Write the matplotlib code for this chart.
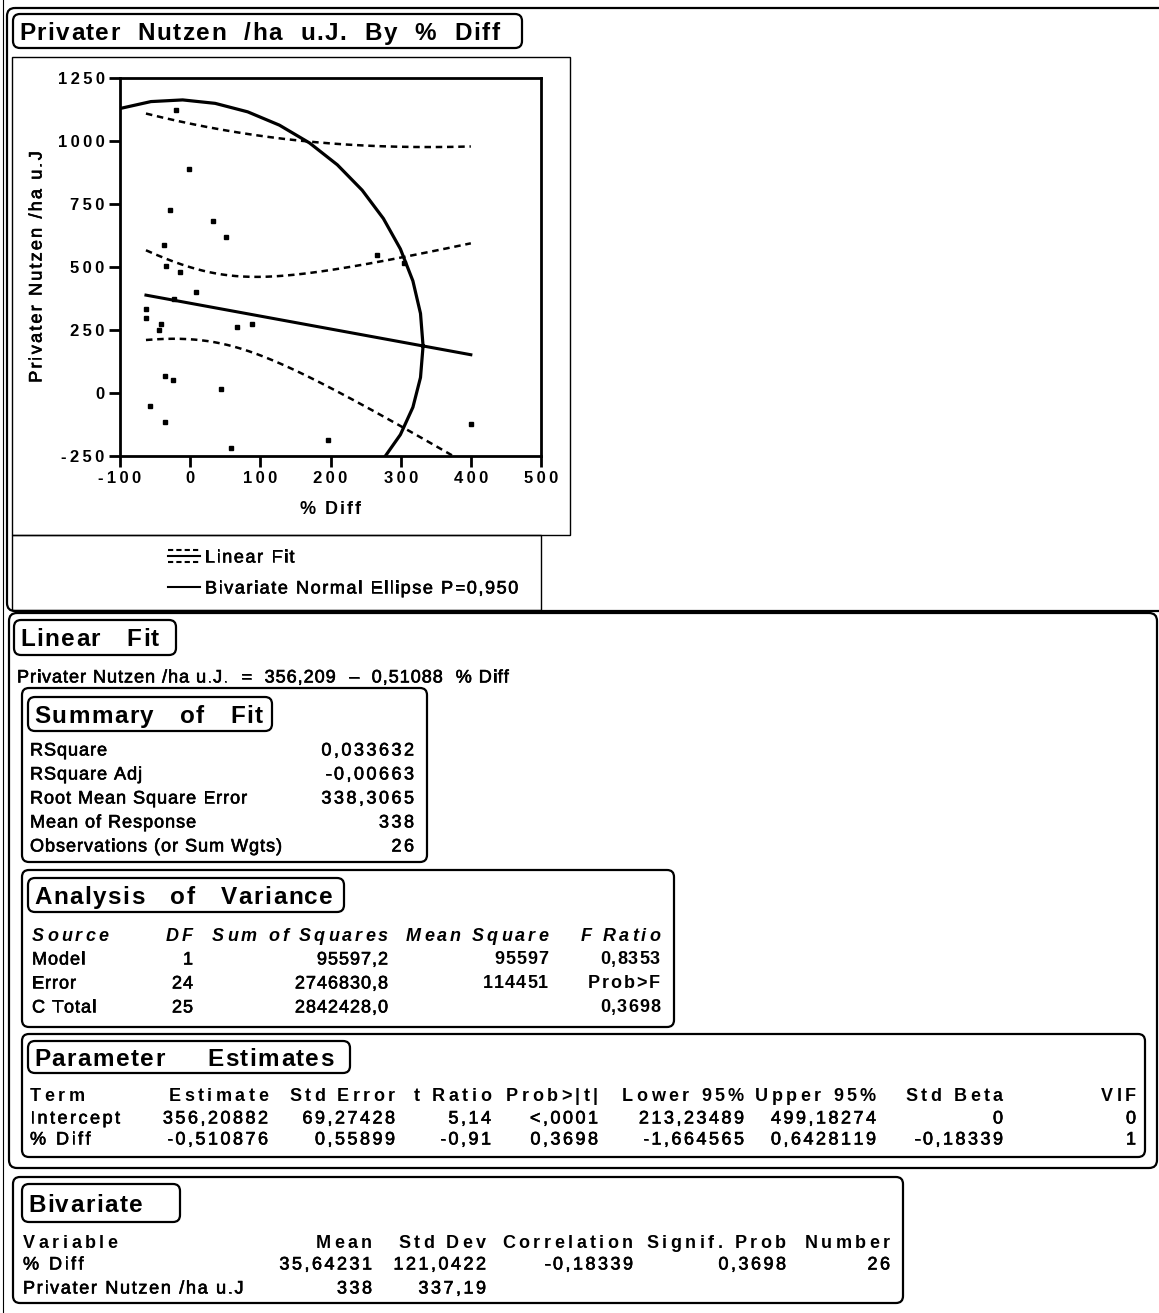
import numpy as np
import matplotlib
matplotlib.use("Agg")
import matplotlib.pyplot as plt
import matplotlib.patheffects as pe
from matplotlib.patches import FancyBboxPatch, Rectangle
from matplotlib import font_manager
from matplotlib.font_manager import FontProperties, findfont, get_font

# ---------------- data ----------------
pct_diff = [-20, -2, -29, 33, 51, -37, -35, -15, 8, -23, -63, -63, -42,
            -45, 67, 88, 266, 305, -36, -24, 44, -57, -36, 400, 196, 58]
nutzen = [1125, 889, 728, 683, 620, 586, 504, 481, 402, 375, 335, 297, 275,
          251, 260, 275, 548, 515, 68, 52, 15, -52, -115, -122, -186, -218]

fit_intercept = 356.209
fit_slope = -0.51088
rmse = 338.3065
n_obs = 26
mean_x, sd_x = 35.64231, 121.0422
mean_y, sd_y = 338.0, 337.19
corr = -0.18339
t_975_24 = 2.0639
ellipse_p = 0.950

x_ticks = [-100, 0, 100, 200, 300, 400, 500]
y_ticks = [-250, 0, 250, 500, 750, 1000, 1250]

summary_labels = ["RSquare", "RSquare Adj", "Root Mean Square Error",
                  "Mean of Response", "Observations (or Sum Wgts)"]
summary_values = ["0,033632", "-0,00663", "338,3065", "338", "26"]

anova_cols = ["Source", "DF", "Sum of Squares", "Mean Square", "F Ratio"]
anova_rows = [["Model", "1", "95597,2", "95597", "0,8353"],
              ["Error", "24", "2746830,8", "114451", "Prob>F"],
              ["C Total", "25", "2842428,0", "", "0,3698"]]

pe_cols = ["Term", "Estimate", "Std Error", "t Ratio", "Prob>|t|",
           "Lower 95%", "Upper 95%", "Std Beta", "VIF"]
pe_rows = [["Intercept", "356,20882", "69,27428", "5,14", "<,0001",
            "213,23489", "499,18274", "0", "0"],
           ["% Diff", "-0,510876", "0,55899", "-0,91", "0,3698",
            "-1,664565", "0,6428119", "-0,18339", "1"]]

biv_cols = ["Variable", "Mean", "Std Dev", "Correlation", "Signif. Prob", "Number"]
biv_rows = [["% Diff", "35,64231", "121,0422", "-0,18339", "0,3698", "26"],
            ["Privater Nutzen /ha u.J", "338", "337,19", "", "", ""]]

# ---------------- fonts ----------------
avail = {f.name for f in font_manager.fontManager.ttflist}
SANS = "Liberation Sans" if "Liberation Sans" in avail else "DejaVu Sans"
DPI = 100

W, H = 1159, 1313
fig = plt.figure(figsize=(W / DPI, H / DPI), dpi=DPI)
bg = fig.add_axes([0, 0, 1, 1])
bg.set_xlim(0, W)
bg.set_ylim(H, 0)
bg.axis("off")

# slightly heavier strokes for the regular-weight print
HEAVY = [pe.withStroke(linewidth=0.45, foreground="black")]


def _advances(s, size, weight, style):
    fp = FontProperties(family=SANS, weight=weight, style=style, size=size)
    font = get_font(findfont(fp))
    font.set_size(size, DPI)
    return [font.load_char(ord(ch)).linearHoriAdvance / 65536 for ch in s]


def ttext(x, y, s, size=13, weight="normal", style="normal", track=0.0,
          ha="left", rot=0):
    """Letter-spaced text; (x, y) is the left/right/centre point at mid cap height."""
    adv = _advances(s, size, weight, style)
    total = sum(adv) + track * (len(s) - 1)
    half_cap = 0.358 * size * DPI / 72
    pos = {"left": 0.0, "right": -total, "center": -total / 2}[ha]
    effects = HEAVY if weight == "normal" else None
    for ch, a in zip(s, adv):
        if ch != " ":
            if rot == 0:
                bx, by = x + pos, y + half_cap
            else:
                bx, by = x + half_cap, y - pos
            bg.text(bx, by, ch, fontsize=size, fontweight=weight,
                    fontstyle=style, family=SANS, rotation=rot,
                    rotation_mode="anchor", ha="left", va="baseline",
                    path_effects=effects)
        pos += a + track


def rbox(x0, y0, x1, y1, lw=1.6, r=7):
    bg.add_patch(FancyBboxPatch((x0, y0), x1 - x0, y1 - y0,
                                boxstyle=f"round,pad=0,rounding_size={r}",
                                fc="none", ec="black", lw=lw))


def rect(x0, y0, x1, y1, lw=1.0):
    bg.add_patch(Rectangle((x0, y0), x1 - x0, y1 - y0, fc="none",
                           ec="black", lw=lw))


# text styles
HEAD = dict(size=17.5, weight="bold", track=1.5)
COLHEAD = dict(size=13, weight="bold", track=3.5)
ITHEAD = dict(size=13, weight="bold", style="italic", track=3)
VAL = dict(size=13, track=2.5)
BOLDVAL = dict(size=13, weight="bold", track=1)
NARROW = dict(size=13, track=1)
LEGEND = dict(size=13, track=1.6)


def heading(x0, y0, x1, y1, label):
    rbox(x0, y0, x1, y1)
    ttext(x0 + 6, (y0 + y1) / 2, label, **HEAD)


# ---------------- outer frames ----------------
bg.plot([3, 3], [0, H], color="black", lw=0.8)
rbox(7, 8, 1175, 611, lw=1.6, r=8)
heading(13, 14, 522, 48, "Privater  Nutzen  /ha  u.J.  By  %  Diff")

rect(12, 57, 570, 535)
rect(12, 535, 541, 610)

# ---------------- scatter panel ----------------
ax_l, ax_r, ax_t, ax_b = 120, 541, 78, 456
ax = fig.add_axes([ax_l / W, 1 - ax_b / H, (ax_r - ax_l) / W, (ax_b - ax_t) / H])
ax.set_xlim(-100, 500)
ax.set_ylim(-250, 1250)
for sp in ax.spines.values():
    sp.set_linewidth(2.0)
ax.set_xticks(x_ticks)
ax.set_yticks(y_ticks)
ax.set_xticklabels(["\u2009".join(str(v)) for v in x_ticks], fontsize=12,
                   fontweight="bold", family=SANS)
ax.set_yticklabels(["\u2009".join(str(v)) for v in y_ticks], fontsize=12,
                   fontweight="bold", family=SANS)
ax.tick_params(direction="out", length=8, width=2.0, pad=3)

# linear fit with confidence curves
xs = np.linspace(min(pct_diff), max(pct_diff), 200)
fit = fit_intercept + fit_slope * xs
lev = 1.0 / n_obs + (xs - mean_x) ** 2 / ((n_obs - 1) * sd_x ** 2)
half_mean = t_975_24 * rmse * np.sqrt(lev)
half_indiv = t_975_24 * rmse * np.sqrt(1 + lev)
dash = (0, (2.6, 1.9))
ax.plot(xs, fit, color="black", lw=2.2)
for curve in (fit + half_mean, fit - half_mean, fit + half_indiv, fit - half_indiv):
    ax.plot(xs, curve, color="black", lw=1.8, ls=dash)

# bivariate normal density ellipse
c = np.sqrt(-2 * np.log(1 - ellipse_p))
t = np.linspace(0, 2 * np.pi, 41)
ex = mean_x + c * sd_x * np.cos(t)
ey = mean_y + c * sd_y * (corr * np.cos(t) + np.sqrt(1 - corr ** 2) * np.sin(t))
ax.plot(ex, ey, color="black", lw=2.3)

ax.plot(pct_diff, nutzen, ls="none", marker="s", ms=3.0, color="black")

ttext(35, 267, "Privater Nutzen /ha u.J", size=13, track=2.2, ha="center", rot=90)
ttext(330, 508, "% Diff", size=13, weight="bold", track=2, ha="center")

# legend
bg.plot([168, 200], [550, 550], color="black", lw=1.5, ls=(0, (2.5, 1.5)))
bg.plot([168, 200], [556, 556], color="black", lw=1.5)
bg.plot([168, 200], [562, 562], color="black", lw=1.5, ls=(0, (2.5, 1.5)))
ttext(205, 556, "Linear Fit", **LEGEND)
bg.plot([168, 200], [587, 587], color="black", lw=1.5)
ttext(205, 587, "Bivariate Normal Ellipse P=0,950", **LEGEND)

# ---------------- Linear Fit report ----------------
rbox(9, 613, 1157, 1168, r=8)
heading(14, 620, 176, 655, "Linear   Fit")
eq = "Privater Nutzen /ha u.J.  =  {}  \u2013  {}  % Diff".format(
    f"{fit_intercept:.3f}".replace(".", ","), f"{abs(fit_slope):.5f}".replace(".", ","))
ttext(17, 676, eq, **NARROW)

# Summary of Fit
rbox(22, 688, 427, 862)
heading(28, 697, 272, 731, "Summary   of   Fit")
for i, (lab, val) in enumerate(zip(summary_labels, summary_values)):
    y = 749 + 24 * i
    ttext(30, y, lab, **NARROW)
    ttext(414, y, val, ha="right", **VAL)

# Analysis of Variance
rbox(22, 870, 674, 1027)
heading(28, 878, 344, 912, "Analysis   of   Variance")
anova_x = [32, 193, 388, 548, 660]
for j, col in enumerate(anova_cols):
    ttext(anova_x[j], 935, col, ha="left" if j == 0 else "right", **ITHEAD)
for i, row in enumerate(anova_rows):
    y = 958 + 24 * i
    for j, v in enumerate(row):
        if not v:
            continue
        style = NARROW if j < 3 else BOLDVAL
        if v == "Prob>F":
            style = dict(BOLDVAL, track=2)
        ttext(anova_x[j], y, v, ha="left" if j == 0 else "right", **style)

# Parameter Estimates
rbox(22, 1034, 1145, 1157)
heading(28, 1041, 350, 1073, "Parameter     Estimates")
pe_x = [30, 268, 395, 491, 598, 744, 876, 1003, 1136]
for j, col in enumerate(pe_cols):
    ttext(pe_x[j], 1095, col, ha="left" if j == 0 else "right", **COLHEAD)
for i, row in enumerate(pe_rows):
    y = 1117 + 21 * i
    for j, v in enumerate(row):
        ttext(pe_x[j], y, v, ha="left" if j == 0 else "right", **VAL)

# Bivariate
rbox(13, 1177, 903, 1303)
heading(22, 1184, 180, 1222, "Bivariate")
biv_x = [23, 372, 486, 633, 786, 890]
for j, col in enumerate(biv_cols):
    ttext(biv_x[j], 1242, col, ha="left" if j == 0 else "right", **COLHEAD)
for i, row in enumerate(biv_rows):
    y = 1263 + 24 * i
    for j, v in enumerate(row):
        if v:
            style = dict(VAL, track=1.7) if j == 0 and len(v) > 10 else VAL
            ttext(biv_x[j], y, v, ha="left" if j == 0 else "right", **style)

fig.savefig("out.png", dpi=DPI)
